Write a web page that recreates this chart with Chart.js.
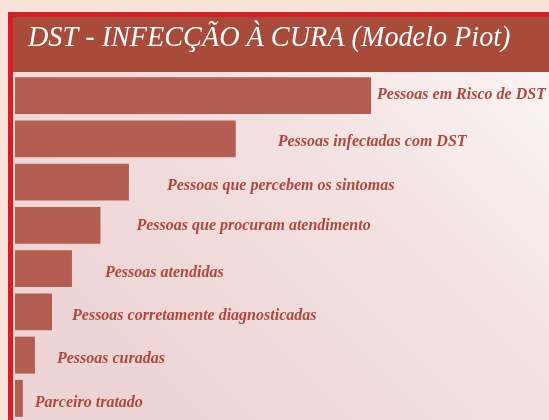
<!DOCTYPE html>
<html>
<head>
<meta charset="utf-8">
<script src="https://cdn.jsdelivr.net/npm/chart.js@4"></script>
<style>
  html, body { margin: 0; padding: 0; background: #f8e4da; }
  canvas { display: block; }
</style>
</head>
<body>
<canvas id="piotchart" width="549" height="420"></canvas>
<script>
const titleText = 'DST - INFECÇÃO À CURA (Modelo Piot)'
const stages = [
  'Pessoas em Risco de DST',
  'Pessoas infectadas com DST',
  'Pessoas que percebem os sintomas',
  'Pessoas que procuram atendimento',
  'Pessoas atendidas',
  'Pessoas corretamente diagnosticadas',
  'Pessoas curadas',
  'Parceiro tratado'
]
const stageValues = [ 100, 62, 32, 24, 16, 10.4, 5.6, 2.2 ]

// label placement next to each bar (px gap after bar end, vertical nudge)
const labelGap = [ 6, 42, 38, 36, 33, 20, 22, 12 ]
const labelNudge = [ -1, 3, 4, 0, 4, 4, 4, 4 ]

const framePlugin = {
  id: 'frame',
  beforeDraw: (chart) => {
    const ctx = chart.ctx
    const w = chart.width, h = chart.height
    ctx.save()
    ctx.fillStyle = '#f8e4da'
    ctx.fillRect(0, 0, w, h)
    // red outer border
    ctx.fillStyle = '#d41f27'
    ctx.fillRect(8, 12, w - 8, h - 12)
    // plot background
    const grad = ctx.createLinearGradient(w, 72, 200, h)
    grad.addColorStop(0, '#faf4f3')
    grad.addColorStop(0.5, '#f3e0e0')
    grad.addColorStop(1, '#eed5d5')
    ctx.fillStyle = grad
    ctx.fillRect(13, 17, w - 13, h - 17)
    // title bar
    ctx.fillStyle = '#a84b3b'
    ctx.fillRect(13, 17, w - 13, 55)
    ctx.fillStyle = '#ffffff'
    ctx.font = 'italic 30px "Liberation Serif", "DejaVu Serif", serif'
    ctx.textBaseline = 'alphabetic'
    ctx.translate(28, 46)
    ctx.scale(0.94, 1)
    ctx.fillText(titleText, 0, 0)
    ctx.restore()
  }
}

const stageLabelPlugin = {
  id: 'stageLabels',
  afterDatasetsDraw: (chart) => {
    const ctx = chart.ctx
    const bars = chart.getDatasetMeta(0).data
    ctx.save()
    ctx.fillStyle = '#b0483c'
    ctx.font = 'italic bold 16px "Liberation Serif", "DejaVu Serif", serif'
    ctx.textBaseline = 'middle'
    bars.forEach((bar, i) => {
      ctx.fillText(stages[i], bar.x + labelGap[i], bar.y + labelNudge[i])
    })
    ctx.restore()
  }
}

const data = {
  labels: stages,
  datasets: [{
    label: 'Modelo Piot',
    data: stageValues,
    backgroundColor: '#b35e50',
    borderWidth: 0,
    barPercentage: 0.855,
    categoryPercentage: 1
  }]
}

const piotConfig = {
  type: 'bar',
  data: data,
  options: {
    indexAxis: 'y',
    responsive: false,
    animation: false,
    layout: { padding: { left: 15, top: 74, right: 0, bottom: 0 } },
    scales: {
      x: { display: false, min: 0, max: 150 },
      y: { display: false }
    },
    plugins: {
      legend: { display: false },
      title: { display: false },
      tooltip: { enabled: false }
    }
  },
  plugins: [ framePlugin, stageLabelPlugin ]
}

const myChart = new Chart(
  document.getElementById('piotchart'),
  piotConfig
)
</script>
</body>
</html>
